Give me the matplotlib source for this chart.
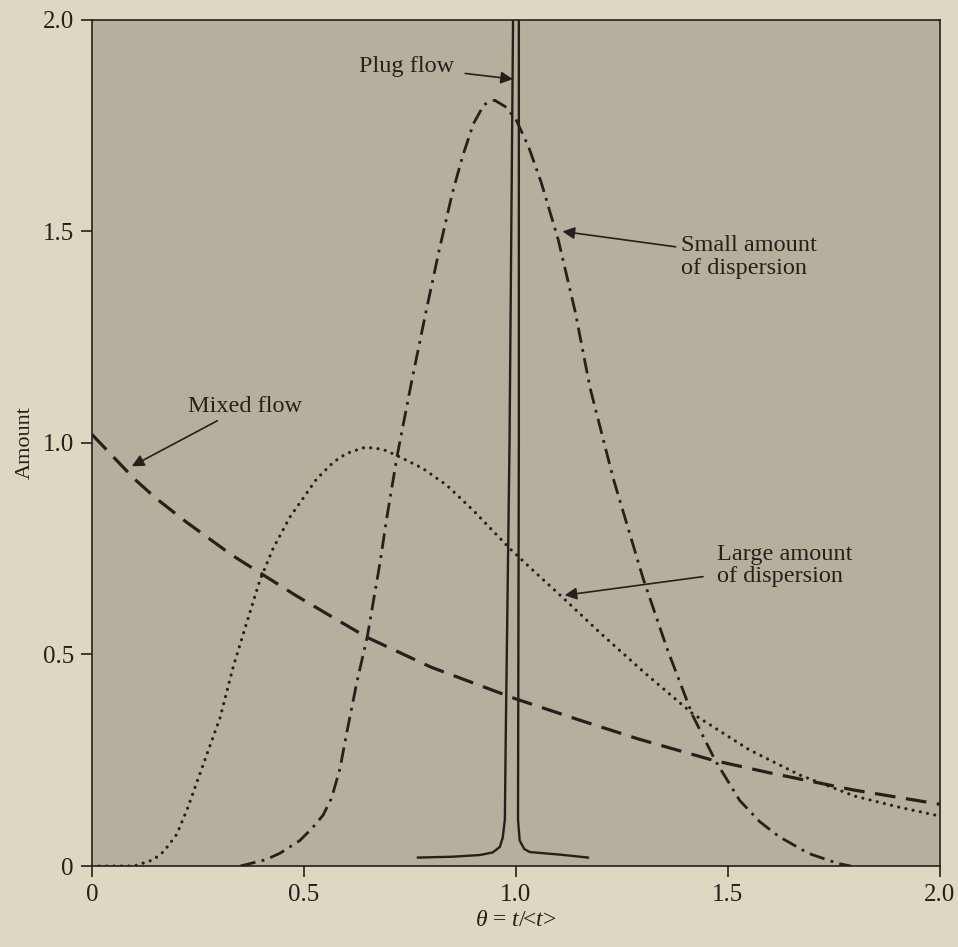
import matplotlib
matplotlib.use("Agg")
import matplotlib.pyplot as plt

# values
mixed_x = [0.0, 0.1, 0.15, 0.22, 0.33, 0.48, 0.59, 0.65, 0.8, 1.0, 1.15, 1.29, 1.465, 1.6, 1.795, 2.0]
mixed_y = [1.02, 0.915, 0.87, 0.815, 0.735, 0.64, 0.575, 0.54, 0.47, 0.395, 0.345, 0.30, 0.25, 0.22, 0.18, 0.146]

small_x = [0.35, 0.41, 0.443, 0.49, 0.52, 0.545, 0.565, 0.585, 0.60, 0.625, 0.65, 0.68, 0.695, 0.72,
           0.755, 0.79, 0.82, 0.85, 0.875, 0.90, 0.925, 0.95, 0.975, 1.0, 1.03, 1.06, 1.10, 1.14,
           1.175, 1.23, 1.30, 1.358, 1.417, 1.47, 1.528, 1.575, 1.62, 1.69, 1.76, 1.79]
small_y = [0.0, 0.015, 0.03, 0.06, 0.09, 0.12, 0.16, 0.23, 0.31, 0.435, 0.545, 0.72, 0.82, 0.97,
           1.15, 1.32, 1.46, 1.59, 1.68, 1.755, 1.80, 1.81, 1.795, 1.765, 1.70, 1.615, 1.48, 1.31,
           1.13, 0.915, 0.68, 0.51, 0.356, 0.25, 0.155, 0.105, 0.07, 0.03, 0.006, 0.0]

large_x = [0.0, 0.1, 0.145, 0.17, 0.2, 0.225, 0.25, 0.275, 0.302, 0.333, 0.365, 0.396, 0.427, 0.467,
           0.53, 0.57, 0.60, 0.645, 0.686, 0.72, 0.78, 0.837, 0.9, 0.986, 1.05, 1.11, 1.2, 1.30, 1.417,
           1.55, 1.67, 1.80, 1.9, 2.0]
large_y = [0.0, 0.0, 0.015, 0.035, 0.075, 0.135, 0.205, 0.275, 0.35, 0.47, 0.575, 0.675, 0.75, 0.825,
           0.915, 0.955, 0.975, 0.99, 0.985, 0.97, 0.94, 0.90, 0.84, 0.75, 0.69, 0.635, 0.55, 0.46, 0.36,
           0.275, 0.215, 0.165, 0.14, 0.118]

plug_x = [0.769, 0.85, 0.915, 0.945, 0.962, 0.969, 0.974, 0.976, 0.985, 0.995, 1.007, 1.007, 1.005,
          1.009, 1.02, 1.033, 1.104, 1.17]
plug_y = [0.02, 0.022, 0.026, 0.032, 0.045, 0.067, 0.11, 0.3, 1.0, 2.2, 2.2, 1.0, 0.11, 0.06, 0.04,
          0.033, 0.027, 0.02]

ticks = [0, 0.5, 1.0, 1.5, 2.0]
tick_labels = ["0", "0.5", "1.0", "1.5", "2.0"]

ink = "#2b1d1b"
paper = "#dcd8c1"
shade = "#b4b09d"

plt.rcParams["font.family"] = ["Liberation Serif", "DejaVu Serif"]
plt.rcParams["mathtext.fontset"] = "custom"
plt.rcParams["mathtext.rm"] = "Liberation Serif"
plt.rcParams["mathtext.it"] = "Liberation Serif:italic"

fig = plt.figure(figsize=(9.58, 9.47), dpi=100, facecolor=paper)
ax = fig.add_axes([0.096, 0.0855, 0.885, 0.8935])
ax.set_facecolor(shade)

ax.plot(mixed_x, mixed_y, color=ink, lw=2.3, dashes=(6.5, 3.3))
ax.plot(small_x, small_y, color=ink, lw=2.0, dashes=(5.6, 2.3, 1.0, 2.3))
ax.plot(large_x, large_y, color=ink, lw=2.3, dashes=(0.01, 2.3), dash_capstyle="round")
ax.plot(plug_x, plug_y, color=ink, lw=1.7)

ax.set_xlim(0, 2.0)
ax.set_ylim(0, 2.0)
ax.set_xticks(ticks)
ax.set_xticklabels(tick_labels)
ax.set_yticks(ticks)
ax.set_yticklabels(tick_labels)
ax.tick_params(direction="out", length=8, width=1.2, color=ink, labelcolor=ink, labelsize=18, pad=5)
for s in ax.spines.values():
    s.set_color(ink)
    s.set_linewidth(1.2)

ax.set_xlabel(r"$\theta$ = $t$/<$t$>", fontsize=17, color=ink, labelpad=3)
ax.set_ylabel("Amount", fontsize=16, color=ink, labelpad=6)

arrow = dict(arrowstyle="-|>", color=ink, lw=1.2, mutation_scale=18)
ax.annotate("Plug flow", xy=(0.993, 1.86), xytext=(0.63, 1.89), fontsize=17.5, color=ink,
            va="center", ha="left", arrowprops=dict(arrow, shrinkA=6, shrinkB=0))
ax.annotate("Small amount\nof dispersion", xy=(1.11, 1.50), xytext=(1.39, 1.44), fontsize=17.5, color=ink,
            va="center", ha="left", linespacing=1.1, arrowprops=dict(arrow, shrinkA=2, shrinkB=0))
ax.annotate("Mixed flow", xy=(0.094, 0.945), xytext=(0.226, 1.087), fontsize=17.5, color=ink,
            va="center", ha="left", arrowprops=dict(arrow, shrinkA=2, shrinkB=0))
ax.annotate("Large amount\nof dispersion", xy=(1.115, 0.64), xytext=(1.474, 0.71), fontsize=17.5, color=ink,
            va="center", ha="left", linespacing=1.1, arrowprops=dict(arrow, shrinkA=8, shrinkB=0))

fig.savefig("out.png", dpi=100, facecolor=paper)
